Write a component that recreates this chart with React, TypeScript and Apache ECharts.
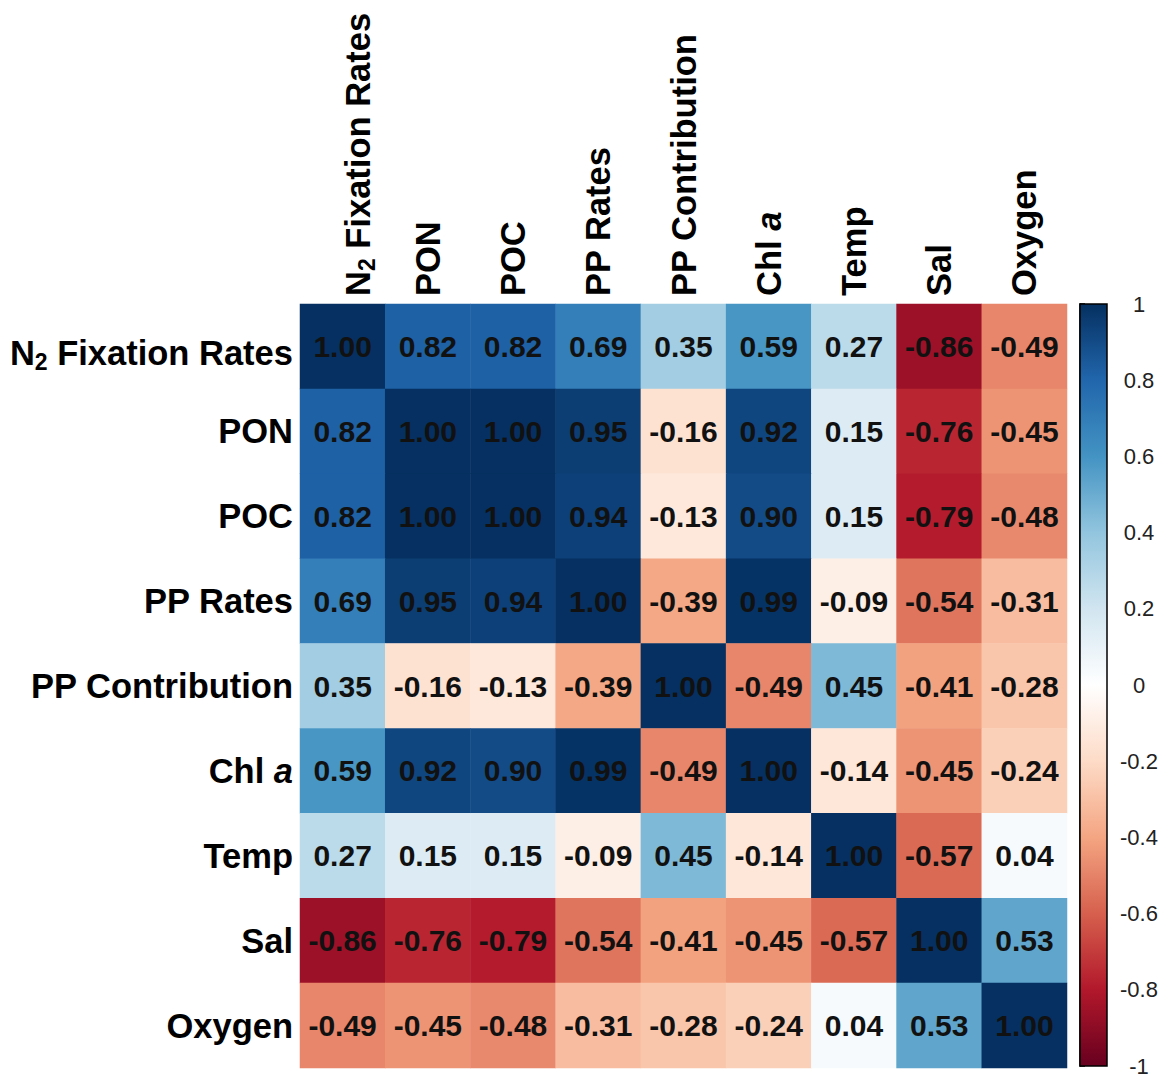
import React, { useEffect, useRef } from "react";
import * as echarts from "echarts";

const variables = [
  "N2 Fixation Rates",
  "PON",
  "POC",
  "PP Rates",
  "PP Contribution",
  "Chl a",
  "Temp",
  "Sal",
  "Oxygen",
];

const rowN2 = [1.0, 0.82, 0.82, 0.69, 0.35, 0.59, 0.27, -0.86, -0.49];
const rowPON = [0.82, 1.0, 1.0, 0.95, -0.16, 0.92, 0.15, -0.76, -0.45];
const rowPOC = [0.82, 1.0, 1.0, 0.94, -0.13, 0.9, 0.15, -0.79, -0.48];
const rowPPRates = [0.69, 0.95, 0.94, 1.0, -0.39, 0.99, -0.09, -0.54, -0.31];
const rowPPContrib = [0.35, -0.16, -0.13, -0.39, 1.0, -0.49, 0.45, -0.41, -0.28];
const rowChl = [0.59, 0.92, 0.9, 0.99, -0.49, 1.0, -0.14, -0.45, -0.24];
const rowTemp = [0.27, 0.15, 0.15, -0.09, 0.45, -0.14, 1.0, -0.57, 0.04];
const rowSal = [-0.86, -0.76, -0.79, -0.54, -0.41, -0.45, -0.57, 1.0, 0.53];
const rowOxygen = [-0.49, -0.45, -0.48, -0.31, -0.28, -0.24, 0.04, 0.53, 1.0];

const matrix = [rowN2, rowPON, rowPOC, rowPPRates, rowPPContrib, rowChl, rowTemp, rowSal, rowOxygen];

const colorbarTicks = [-1, -0.8, -0.6, -0.4, -0.2, 0, 0.2, 0.4, 0.6, 0.8, 1];

const palette = [
  "#67001F", "#B2182B", "#D6604D", "#F4A582", "#FDDBC7", "#FFFFFF",
  "#D1E5F0", "#92C5DE", "#4393C3", "#2166AC", "#053061",
];

const FONT = "Liberation Sans, Arial, sans-serif";

function labelFmt(v: string) {
  if (v === "N2 Fixation Rates") return "{m|N}{sub|2}{m| Fixation Rates}";
  if (v === "Chl a") return "{n|Chl }{i|a}";
  return "{n|" + v + "}";
}

const base = { fontSize: 34.5, fontWeight: "bold", fontFamily: FONT, color: "#000", lineHeight: 40 };

function makeRich(shift: number, d: number) {
  return {
    n: { ...base },
    m: { ...base, padding: [shift, 0, 0, 0] },
    sub: { fontSize: 23, fontWeight: "bold", fontFamily: FONT, color: "#000", lineHeight: 40, padding: [shift + d, 0, 0, 0] },
    i: { ...base, fontStyle: "italic" },
  };
}

export default function App() {
  const ref = useRef<HTMLDivElement>(null);
  useEffect(() => {
    if (!ref.current) return;
    const chart = echarts.init(ref.current, undefined, { renderer: "svg" });
    const data: number[][] = [];
    matrix.forEach((row, r) => row.forEach((v, c) => data.push([c, r, v])));
    const stops = palette
      .slice()
      .reverse()
      .map((color, k) => ({ offset: k / (palette.length - 1), color }));

    chart.setOption({
      animation: false,
      backgroundColor: "#fff",
      grid: [
        { left: 300, top: 304, width: 767, height: 764 },
        { left: 1080, top: 304, width: 27, height: 763 },
      ],
      xAxis: [
        {
          type: "category",
          data: variables,
          position: "top",
          gridIndex: 0,
          axisLine: { show: false },
          axisTick: { show: false },
          axisLabel: {
            rotate: -90,
            margin: 8,
            interval: 0,
            formatter: labelFmt,
            rich: makeRich(30, 18),
          },
        },
        { type: "value", gridIndex: 1, min: 0, max: 1, show: false },
      ],
      yAxis: [
        {
          type: "category",
          data: variables,
          inverse: true,
          gridIndex: 0,
          axisLine: { show: false },
          axisTick: { show: false },
          axisLabel: {
            margin: 7,
            interval: 0,
            formatter: labelFmt,
            rich: makeRich(14, 18),
          },
        },
        {
          type: "value",
          gridIndex: 1,
          min: -1,
          max: 1,
          interval: 0.2,
          position: "right",
          splitLine: { show: false },
          axisLine: { show: true, lineStyle: { color: "#000", width: 1.5 } },
          axisTick: { show: true, length: 5, lineStyle: { color: "#000", width: 1.5 } },
          axisLabel: {
            margin: 32,
            align: "center",
            fontSize: 22,
            fontFamily: FONT,
            color: "#222",
            formatter: (v: number) => {
              const t = colorbarTicks.reduce((a, b) => (Math.abs(b - v) < Math.abs(a - v) ? b : a));
              return String(t);
            },
          },
        },
      ],
      visualMap: {
        show: false,
        type: "continuous",
        min: -1,
        max: 1,
        seriesIndex: 0,
        inRange: { color: palette },
      },
      series: [
        {
          type: "heatmap",
          xAxisIndex: 0,
          yAxisIndex: 0,
          data,
          label: {
            show: true,
            formatter: (p: any) => p.value[2].toFixed(2),
            fontSize: 30,
            fontWeight: "bold",
            fontFamily: FONT,
            color: "#111",
          },
          itemStyle: { borderWidth: 0 },
        },
        {
          type: "custom",
          xAxisIndex: 1,
          yAxisIndex: 1,
          data: [[0, 1]],
          silent: true,
          renderItem: (_params: any, api: any) => {
            const tl = api.coord([0, 1]);
            const br = api.coord([1, -1]);
            return {
              type: "rect",
              shape: { x: tl[0], y: tl[1], width: br[0] - tl[0], height: br[1] - tl[1] },
              style: {
                fill: new echarts.graphic.LinearGradient(0, 0, 0, 1, stops),
                stroke: "#000",
                lineWidth: 1.5,
              },
            };
          },
        },
      ],
    });
    return () => chart.dispose();
  }, []);
  return (
    <div
      ref={ref}
      style={{ position: "fixed", left: 0, top: 0, width: 1163, height: 1077, background: "#fff" }}
    />
  );
}
